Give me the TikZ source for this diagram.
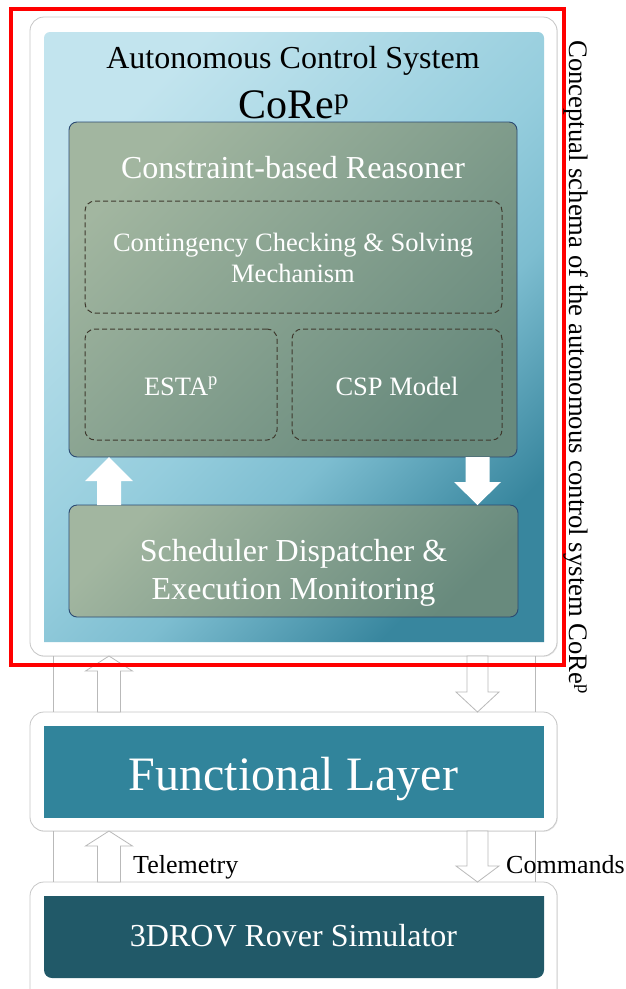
\documentclass[tikz,border=0pt]{standalone}
\usepackage{fontspec}
\setmainfont{Liberation Serif}
\usetikzlibrary{calc,fit,shadows}

\newcommand\fsz[1]{\fontsize{#1}{#1}\selectfont}

% block arrow: #1 style, #2 tail, #3 tip, #4 shaft half width, #5 head half width, #6 head length
\newcommand\blockarrow[6]{%
  \coordinate (ba-s) at (#2);
  \coordinate (ba-t) at (#3);
  \coordinate (ba-b) at ($(ba-t)!#6!(ba-s)$);
  \path[#1] ($(ba-s)!#4!90:(ba-t)$) -- ($(ba-b)!#4!90:(ba-t)$)
    -- ($(ba-b)!#5!90:(ba-t)$) -- (ba-t) -- ($(ba-b)!#5!-90:(ba-t)$)
    -- ($(ba-b)!#4!-90:(ba-t)$) -- ($(ba-s)!#4!-90:(ba-t)$) -- cycle;
}

\definecolor{sageA}{HTML}{A2B6A0}
\definecolor{sageB}{HTML}{8AA491}
\definecolor{sageC}{HTML}{688A7D}
\definecolor{navy}{HTML}{2B4A72}
\definecolor{dashcol}{HTML}{3F3A2E}
\definecolor{teal}{HTML}{31849B}
\definecolor{deepteal}{HTML}{215968}

% light sky blue that darkens towards one end
\pgfdeclarehorizontalshading{skyfade}{100bp}{%
  color(0bp)=(rgb,255:red,194;green,228;blue,238);
  color(25bp)=(rgb,255:red,194;green,228;blue,238);
  color(50bp)=(rgb,255:red,149;green,205;blue,221);
  color(60bp)=(rgb,255:red,125;green,189;blue,208);
  color(75bp)=(rgb,255:red,56;green,134;blue,158);
  color(100bp)=(rgb,255:red,56;green,134;blue,158)}

\begin{document}
\begin{tikzpicture}[x=1pt,y=-1pt,
  frame/.style={draw=gray!45, line width=0.8pt, fill=white, rounded corners=14pt,
    drop shadow={opacity=0.18, shadow xshift=0.8pt, shadow yshift=-0.8pt}},
  area/.style={inner sep=0pt, outer sep=0pt},
  skyshade/.style={shading=skyfade, shading angle=-45},
  sagebox/.style={area, draw=navy, line width=0.9pt, rounded corners=8pt,
    left color=sageA, middle color=sageB, right color=sageC, shading angle=45},
  dashbox/.style={area, draw=dashcol, line width=1pt, dash pattern=on 5pt off 3pt, rounded corners=10pt},
  solidarrow/.style={fill=white},
  hollowarrow/.style={fill=white, draw=gray!55, line width=0.8pt},
  rail/.style={draw=gray!55, line width=0.8pt},
  wtxt/.style={text=white, inner sep=0pt, anchor=base},
  btxt/.style={text=black, inner sep=0pt, anchor=base}
]
\useasboundingbox (0,0) rectangle (625,989);

% white frames
\node[frame, area, fit={(30,17) (557,656)}] (acsbox) {};
\node[frame, area, fit={(30,712) (557,831)}] (flbox) {};
\node[frame, area, fit={(30,882) (557,1010)}] (simbox) {};

% rails between the frames
\coordinate (rl) at (53,0);
\coordinate (rr) at (535,0);
\draw[rail] (rl |- acsbox.south) -- (rl |- flbox.north);
\draw[rail] (rr |- acsbox.south) -- (rr |- flbox.north);
\draw[rail] (rl |- flbox.south) -- (rl |- simbox.north);
\draw[rail] (rr |- flbox.south) -- (rr |- simbox.north);

% autonomous control system panel
\node[area, fit={(44,32) (544,642)}] (acs) {};
\shade[skyshade] (acs.south west) -- ([yshift=-6pt]acs.north west)
  arc[start angle=180, end angle=90, radius=6pt] -- ([xshift=-6pt]acs.north east)
  arc[start angle=90, end angle=0, radius=6pt] -- (acs.south east) -- cycle;
\node[btxt] (acstitle) at (293,68) {\fsz{32}Autonomous Control System};
\node[btxt] (corep) at (294,118) {\fsz{42}CoRe\textsuperscript{p}};

% reasoner
\node[sagebox, fit={(69,122) (517,457)}] (reason) {};
\node[wtxt] (reasontitle) at (293,178) {\fsz{32}Constraint-based Reasoner};
\node[dashbox, fit={(85,201) (502,313)}] (ccsm) {};
\node[wtxt] (ccsm1) at (293,251) {\fsz{26.5}Contingency Checking \& Solving};
\node[wtxt] (ccsm2) at (293,282) {\fsz{26.5}Mechanism};
\node[dashbox, fit={(85,329) (277,440)}] (esta) {};
\node[wtxt] (estatxt) at (181,395) {\fsz{26.5}ESTA\textsuperscript{p}};
\node[dashbox, fit={(292,329) (502,440)}] (csp) {};
\node[wtxt] (csptxt) at (397,395) {\fsz{26.5}CSP Model};

% scheduler
\node[sagebox, fit={(69,505) (518,617)}] (sched) {};
\node[wtxt] (sched1) at (293.5,561) {\fsz{32}Scheduler Dispatcher \&};
\node[wtxt] (sched2) at (293.5,599) {\fsz{32}Execution Monitoring};

% functional layer
\node[area, fill=teal, fit={(44,726) (544,818)}] (fl) {};
\node[wtxt] (fltxt) at (293.5,790) {\fsz{48}Functional Layer};

% simulator
\node[area, fit={(44,896) (544,978)}] (sim) {};
\fill[deepteal] (sim.north west) -- ([yshift=8pt]sim.south west)
  arc[start angle=180, end angle=270, radius=8pt] -- ([xshift=-8pt]sim.south east)
  arc[start angle=270, end angle=360, radius=8pt] -- (sim.north east) -- cycle;
\node[wtxt] (simtxt) at (293.5,946) {\fsz{32}3DROV Rover Simulator};

% arrows
\coordinate (lx) at (109,0);
\coordinate (rx) at (477.5,0);
\blockarrow{solidarrow}{lx |- sched.north}{lx |- reason.south}{12pt}{24pt}{24pt}
\blockarrow{solidarrow}{rx |- reason.south}{rx |- sched.north}{12pt}{23.5pt}{23pt}
\blockarrow{hollowarrow}{lx |- flbox.north}{lx |- acsbox.south}{11.5pt}{23.5pt}{15pt}
\blockarrow{hollowarrow}{rx |- acsbox.south}{rx |- flbox.north}{10.5pt}{21.5pt}{20pt}
\blockarrow{hollowarrow}{lx |- simbox.north}{lx |- flbox.south}{11.5pt}{23.5pt}{15pt}
\blockarrow{hollowarrow}{rx |- flbox.south}{rx |- simbox.north}{10.5pt}{21.5pt}{16pt}

\node[btxt, anchor=base west] (telem) at (133,873) {\fsz{26}Telemetry};
\node[btxt, anchor=base west] (cmds) at (506,873) {\fsz{26}Commands};

% highlight frame and its caption
\node[area, draw=red, line width=4pt, fit={(10.5,9) (563.5,664.5)}] (hl) {};
\node[btxt, rotate=-90, anchor=base west] (caption) at (569,40)
  {\fsz{26.7}Conceptual schema of the autonomous control system CoRe\textsuperscript{p}};
\end{tikzpicture}
\end{document}
